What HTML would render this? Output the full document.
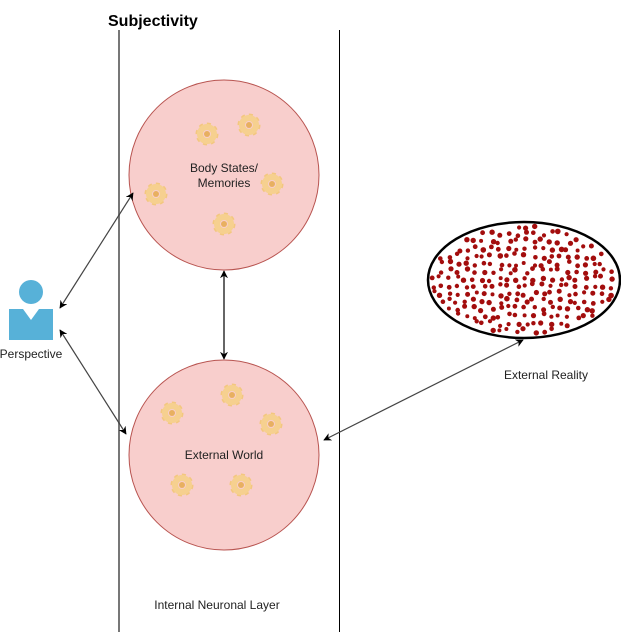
<!DOCTYPE html>
<html><head><meta charset="utf-8"><style>
html,body{margin:0;padding:0;background:#fff;width:621px;height:632px;overflow:hidden}
svg{display:block}
text{font-family:"Liberation Sans",sans-serif;fill:#222}
</style></head><body>
<svg id="s" width="621" height="632" viewBox="0 0 621 632" xmlns="http://www.w3.org/2000/svg">
<defs>
<marker id="a" viewBox="0 0 10 10" refX="9" refY="5" markerWidth="8" markerHeight="8" orient="auto-start-reverse" markerUnits="userSpaceOnUse"><path d="M0,0 L10,5 L0,10 L3,5 z" fill="#000"/></marker>
<g id="gear">
<circle r="9" fill="none" stroke="#f3c77f" stroke-width="5" stroke-dasharray="3.5 3.5"/>
<circle r="7" fill="none" stroke="#f6d08f" stroke-width="6"/>
<circle r="3" fill="#e8b060"/>
</g>
</defs>
<text x="108" y="26" font-size="16" font-weight="bold" style="fill:#000">Subjectivity</text>
<line x1="119" y1="30" x2="119" y2="632" stroke="#777" stroke-width="2"/>
<line x1="339.5" y1="30" x2="339.5" y2="632" stroke="#000" stroke-width="1"/>
<circle cx="224" cy="175" r="95" fill="#f8cecc" stroke="#b85450"/>
<circle cx="224" cy="455" r="95" fill="#f8cecc" stroke="#b85450"/>
<g id="gears"></g>
<text x="224" y="172" font-size="12" text-anchor="middle">Body States/</text>
<text x="224" y="187" font-size="12" text-anchor="middle">Memories</text>
<text x="224" y="459" font-size="12" text-anchor="middle">External World</text>
<text x="217" y="609" font-size="12" text-anchor="middle">Internal Neuronal Layer</text>
<text x="546" y="379" font-size="12" text-anchor="middle">External Reality</text>
<text x="31" y="358" font-size="12" text-anchor="middle">Perspective</text>
<circle cx="31" cy="292" r="12" fill="#57b1d8"/>
<path d="M9,309 H23 L31,320 L39,309 H53 V340 H9 Z" fill="#57b1d8"/>
<g stroke="#444" stroke-width="1.2" fill="none">
<line x1="60" y1="308" x2="133" y2="193" marker-start="url(#a)" marker-end="url(#a)"/>
<line x1="60" y1="330" x2="126" y2="434" marker-start="url(#a)" marker-end="url(#a)"/>
<line x1="324" y1="440" x2="523" y2="340" marker-start="url(#a)" marker-end="url(#a)"/>
<line x1="224" y1="271" x2="224" y2="359" stroke="#000" marker-start="url(#a)" marker-end="url(#a)"/>
</g>
<g id="dots" fill="#a30d0d"></g>
<ellipse cx="524" cy="280" rx="96" ry="58" fill="none" stroke="#000" stroke-width="2.5"/>
</svg>
<script>
var ns="http://www.w3.org/2000/svg";
var gp=[[207,134],[249,125],[272,184],[156,194],[224,224],[172,413],[232,395],[271,424],[182,485],[241,485]];
var g=document.getElementById("gears");
gp.forEach(function(p){var u=document.createElementNS(ns,"use");u.setAttribute("href","#gear");u.setAttribute("transform","translate("+p[0]+","+p[1]+")");g.appendChild(u);});
var d=document.getElementById("dots"),seed=7;
function r(){seed=(seed*16807)%2147483647;return seed/2147483647;}
for(var y=226;y<336;y+=7.5){for(var x=432;x<618;x+=8.5){
var px=x+(r()-0.5)*5,py=y+(r()-0.5)*5;
var dx=(px-524)/92,dy=(py-280)/54;if(dx*dx+dy*dy>1)continue;
var c=document.createElementNS(ns,"circle");c.setAttribute("cx",px.toFixed(1));c.setAttribute("cy",py.toFixed(1));c.setAttribute("r",(2+r()*0.8).toFixed(1));d.appendChild(c);}}
</script>
</body></html>
